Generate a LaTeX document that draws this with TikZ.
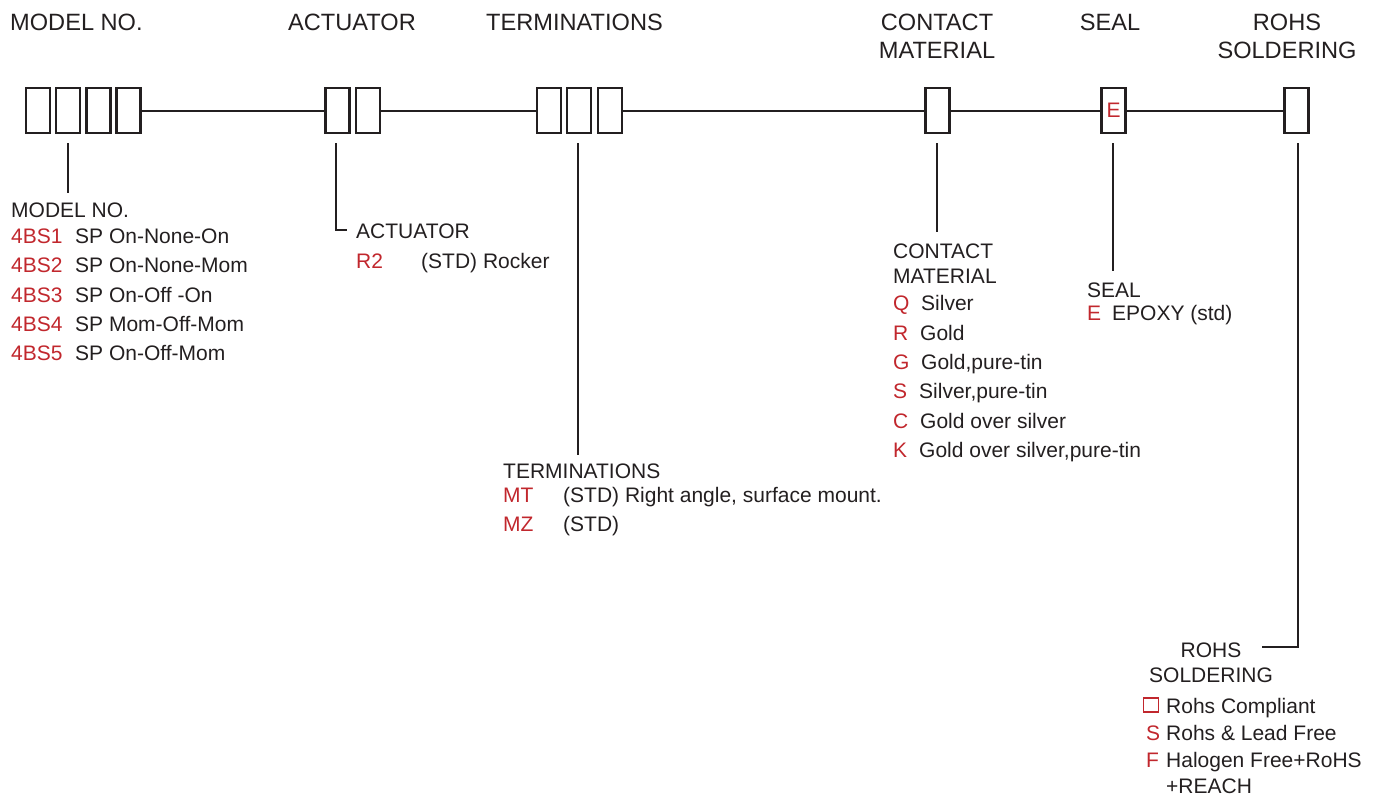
\documentclass[tikz,border=0pt]{standalone}
\usepackage{fontspec}
\setmainfont{Liberation Sans}
\definecolor{ink}{HTML}{231F20}
\definecolor{codered}{HTML}{C1272D}
\tikzset{
  box/.style={draw=ink,line width=2.3pt,minimum width=24pt,minimum height=45pt,inner sep=0pt},
  wire/.style={draw=ink,line width=2pt},
  head/.style={text=ink,font=\fontsize{23.6}{28}\selectfont,inner sep=0pt,align=center},
  ttl/.style={text=ink,font=\fontsize{21}{25}\selectfont,inner sep=0pt,anchor=base west,align=left},
  item/.style={text=ink,font=\fontsize{21}{25}\selectfont,inner sep=0pt,anchor=base west},
  code/.style={item,text=codered},
}
\begin{document}
\begin{tikzpicture}[x=1pt,y=-1pt]
\useasboundingbox (0,0) rectangle (1378,796);
% headers
\node[head,anchor=base west] (hm) at (10,30) {MODEL NO.};
\node[head,anchor=base west] (ha) at (288,30) {ACTUATOR};
\node[head,anchor=base west] (ht) at (486,30) {TERMINATIONS};
\node[head,anchor=base] (hc) at (937,58) {CONTACT\\MATERIAL};
\node[head,anchor=base] (hs) at (1110,30) {SEAL};
\node[head,anchor=base] (hr) at (1287,58) {ROHS\\SOLDERING};
% boxes
\node[box] (m1) at (38,110.5) {};
\node[box] (m2) at (68,110.5) {};
\node[box] (m3) at (98.5,110.5) {};
\node[box] (m4) at (128.5,110.5) {};
\node[box] (a1) at (337.5,110.5) {};
\node[box] (a2) at (368,110.5) {};
\node[box] (t1) at (549,110.5) {};
\node[box] (t2) at (579,110.5) {};
\node[box] (t3) at (610,110.5) {};
\node[box] (c1) at (937.5,110.5) {};
\node[box,text=codered,font=\fontsize{21}{25}\selectfont] (s1) at (1113.5,110.5) {E};
\node[box] (r1) at (1296.5,110.5) {};
% main line
\draw[wire] (m4.east) -- (a1.west);
\draw[wire] (a2.east) -- (t1.west);
\draw[wire] (t3.east) -- (c1.west);
\draw[wire] (c1.east) -- (s1.west);
\draw[wire] (s1.east) -- (r1.west);
% leader coordinates
\coordinate (mt) at (68,143);   \coordinate (mb) at (68,193);
\coordinate (at) at (336,143);  \coordinate (ab) at (336,230); \coordinate (ae) at (347,230);
\coordinate (tt) at (578,143);  \coordinate (tb) at (578,455);
\coordinate (ct) at (937,143);  \coordinate (cb) at (937,232);
\coordinate (st) at (1113,143); \coordinate (sb) at (1113,271);
\coordinate (rt) at (1298,143); \coordinate (rb) at (1298,647); \coordinate (re) at (1262,647);
\draw[wire] (mt) -- (mb);
\draw[wire] (at) -- (ab) -- (ae);
\draw[wire] (tt) -- (tb);
\draw[wire] (ct) -- (cb);
\draw[wire] (st) -- (sb);
\draw[wire] (rt) -- (rb) -- (re);
% MODEL NO. list
\node[ttl] (lm) at (11,217) {MODEL NO.};
\node[code] (m1c) at (11,243) {4BS1};  \node[item] (m1d) at (75,243) {SP On-None-On};
\node[code] (m2c) at (11,272) {4BS2};  \node[item] (m2d) at (75,272) {SP On-None-Mom};
\node[code] (m3c) at (11,302) {4BS3};  \node[item] (m3d) at (75,302) {SP On-Off -On};
\node[code] (m4c) at (11,331) {4BS4};  \node[item] (m4d) at (75,331) {SP Mom-Off-Mom};
\node[code] (m5c) at (11,360) {4BS5};  \node[item] (m5d) at (75,360) {SP On-Off-Mom};
% ACTUATOR list
\node[ttl] (la) at (356,238) {ACTUATOR};
\node[code] (a1c) at (356,268) {R2};  \node[item] (a1d) at (421,268) {(STD) Rocker};
% TERMINATIONS list
\node[ttl] (lt) at (503,478) {TERMINATIONS};
\node[code] (t1c) at (503,502) {MT};  \node[item] (t1d) at (563,502) {(STD) Right angle, surface mount.};
\node[code] (t2c) at (503,531) {MZ};  \node[item] (t2d) at (563,531) {(STD)};
% CONTACT MATERIAL list
\node[ttl] (lc) at (893,283) {CONTACT\\MATERIAL};
\node[code] (c1c) at (893,310) {Q};  \node[item] (c1d) at (921,310) {Silver};
\node[code] (c2c) at (893,340) {R};  \node[item] (c2d) at (920,340) {Gold};
\node[code] (c3c) at (893,369) {G};  \node[item] (c3d) at (921,369) {Gold,pure-tin};
\node[code] (c4c) at (893,398) {S};  \node[item] (c4d) at (919,398) {Silver,pure-tin};
\node[code] (c5c) at (893,428) {C};  \node[item] (c5d) at (920,428) {Gold over silver};
\node[code] (c6c) at (893,457) {K};  \node[item] (c6d) at (919,457) {Gold over silver,pure-tin};
% SEAL list
\node[ttl] (ls) at (1087,297) {SEAL};
\node[code] (s1c) at (1087,320) {E};  \node[item] (s1d) at (1112,320) {EPOXY (std)};
% ROHS list
\node[ttl,anchor=base,align=center] (lr) at (1211,682) {ROHS\\SOLDERING};
\node[draw=codered,line width=1.3pt,minimum width=15pt,minimum height=14pt,inner sep=0pt] (r1c) at (1151,705) {};
\node[item] (r1d) at (1166,713) {Rohs Compliant};
\node[code] (r2c) at (1146,740) {S};  \node[item] (r2d) at (1166,740) {Rohs \& Lead Free};
\node[code] (r3c) at (1146,767) {F};  \node[item] (r3d) at (1166,767) {Halogen Free+RoHS};
\node[item] (r4d) at (1166,793) {+REACH};
\end{tikzpicture}
\end{document}
